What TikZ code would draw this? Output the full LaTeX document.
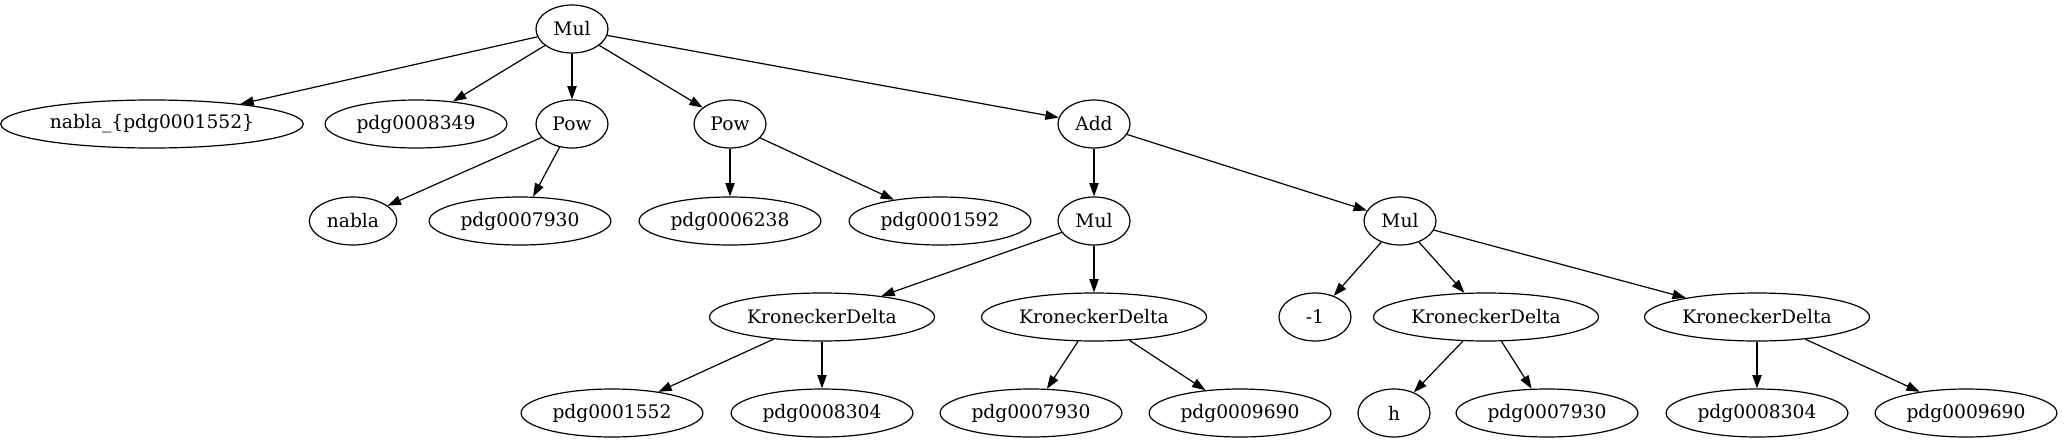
\documentclass[tikz,border=0pt]{standalone}
\usepackage{fontspec}
\setmainfont{DejaVu Serif}
\usepackage{tikz}
\usetikzlibrary{shapes.geometric, arrows.meta}

\begin{document}
\begin{tikzpicture}[
    x=0.75pt, y=-0.75pt,
    every node/.style={font=\fontsize{14}{16}\selectfont},
    term/.style={ellipse, draw, line width=0.9pt, inner xsep=3.6pt, inner ysep=3pt, minimum width=54pt, minimum height=36pt},
    arrow/.style={-{Triangle[length=10pt, width=7pt]}, line width=0.9pt}
]
\useasboundingbox (0,0) rectangle (2064,443);

\node[term] (mul) at (572,29) {Mul};

\node[term] (nablasub) at (152,124) {nabla\_\{pdg0001552\}};
\node[term] (pdgA) at (416,124) {pdg0008349};
\node[term] (powA) at (572,124) {Pow};
\node[term] (powB) at (730,124) {Pow};
\node[term] (add) at (1094,124) {Add};

\node[term] (nabla) at (353,221) {nabla};
\node[term] (pdgB) at (520,221) {pdg0007930};
\node[term] (pdgC) at (730,221) {pdg0006238};
\node[term] (pdgD) at (940,221) {pdg0001592};
\node[term] (mulA) at (1094,221) {Mul};
\node[term] (mulB) at (1400,221) {Mul};

\node[term] (kdA) at (822,317) {KroneckerDelta};
\node[term] (kdB) at (1094,317) {KroneckerDelta};
\node[term] (minus) at (1315,317) {-1};
\node[term] (kdC) at (1486,317) {KroneckerDelta};
\node[term] (kdD) at (1757,317) {KroneckerDelta};

\node[term] (pdgE) at (612,413) {pdg0001552};
\node[term] (pdgF) at (822,413) {pdg0008304};
\node[term] (pdgG) at (1031,413) {pdg0007930};
\node[term] (pdgH) at (1240,413) {pdg0009690};
\node[term] (h) at (1394,413) {h};
\node[term] (pdgI) at (1547,413) {pdg0007930};
\node[term] (pdgJ) at (1757,413) {pdg0008304};
\node[term] (pdgK) at (1966,413) {pdg0009690};

\draw[arrow] (mul) -- (nablasub);
\draw[arrow] (mul) -- (pdgA);
\draw[arrow] (mul) -- (powA);
\draw[arrow] (mul) -- (powB);
\draw[arrow] (mul) -- (add);

\draw[arrow] (powA) -- (nabla);
\draw[arrow] (powA) -- (pdgB);
\draw[arrow] (powB) -- (pdgC);
\draw[arrow] (powB) -- (pdgD);
\draw[arrow] (add) -- (mulA);
\draw[arrow] (add) -- (mulB);

\draw[arrow] (mulA) -- (kdA);
\draw[arrow] (mulA) -- (kdB);
\draw[arrow] (mulB) -- (minus);
\draw[arrow] (mulB) -- (kdC);
\draw[arrow] (mulB) -- (kdD);

\draw[arrow] (kdA) -- (pdgE);
\draw[arrow] (kdA) -- (pdgF);
\draw[arrow] (kdB) -- (pdgG);
\draw[arrow] (kdB) -- (pdgH);
\draw[arrow] (kdC) -- (h);
\draw[arrow] (kdC) -- (pdgI);
\draw[arrow] (kdD) -- (pdgJ);
\draw[arrow] (kdD) -- (pdgK);

\end{tikzpicture}
\end{document}
